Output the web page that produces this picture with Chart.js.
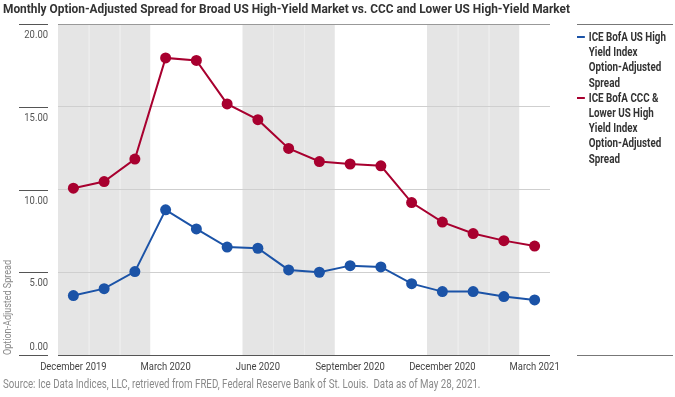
<!DOCTYPE html>
<html>
<head>
<meta charset="utf-8">
<script src="https://cdn.jsdelivr.net/npm/chart.js@4.4.1/dist/chart.umd.min.js"></script>
<style>
  html, body { margin: 0; padding: 0; background: #fff; }
  body { width: 675px; height: 397px; position: relative; overflow: hidden; font-family: Roboto, sans-serif; }
  #wrap { position: absolute; left: 0; top: 0; width: 675px; height: 397px; }
  .sq { transform-origin: 0 0; white-space: nowrap; position: absolute; }
  #title { left: 3px; top: 0px; font-size: 13.5px; font-weight: bold; color: #333; transform: scaleX(0.88); }
  #source { left: 3px; top: 377px; font-size: 12px; color: #8a8a8a; transform: scaleX(0.81); }
  .rule { position: absolute; left: 577px; width: 96px; height: 0; border-top: 1px solid #777; }
  #legend { left: 577px; top: 29px; width: 123px; white-space: normal; transform: scaleX(0.785); }
  .item { position: relative; padding-left: 15px; font-size: 12.5px; font-weight: bold; color: #333; line-height: 15.2px; }
  .item span.w { white-space: nowrap; }
  .sw { position: absolute; left: 0; top: 7px; width: 10px; height: 2px; }
</style>
</head>
<body>
<div id="wrap"><canvas id="c" width="675" height="397"></canvas></div>
<div id="title" class="sq">Monthly Option-Adjusted Spread for Broad US High-Yield Market vs. CCC and Lower US High-Yield Market</div>
<div class="rule" style="top:24px"></div>
<div id="legend" class="sq"></div>
<div class="rule" style="top:355px"></div>
<div id="source" class="sq">Source: Ice Data Indices, LLC, retrieved from FRED, Federal Reserve Bank of St. Louis.&nbsp; Data as of May 28, 2021.</div>
<script>
// données (déc. 2019 -> mars 2021)
const months = ["December 2019", "January 2020", "February 2020", "March 2020", "April 2020", "May 2020",
  "June 2020", "July 2020", "August 2020", "September 2020", "October 2020", "November 2020",
  "December 2020", "January 2021", "February 2021", "March 2021"];
const highYield = [3.59, 4.01, 5.04, 8.77, 7.62, 6.52, 6.45, 5.14, 5.00, 5.40, 5.32, 4.31, 3.83, 3.83, 3.53, 3.33];
const cccLower = [10.08, 10.48, 11.84, 17.95, 17.80, 15.17, 14.22, 12.48, 11.69, 11.54, 11.43, 9.21, 8.03, 7.34, 6.91, 6.58];
const yTicks = [0, 5, 10, 15, 20];
const seriesNames = ["ICE BofA US High Yield Index Option-Adjusted Spread",
  "ICE BofA CCC & Lower US High Yield Index Option-Adjusted Spread"];
const colors = ["#1b53a7", "#a8002f"];

const FONT = "Roboto, sans-serif";
const SX = 0.82; // compression horizontale (police condensée absente)

// légende HTML (pas de coupure après les traits d'union)
const legend = document.getElementById("legend");
seriesNames.forEach((name, i) => {
    const d = document.createElement("div");
    d.className = "item";
    const words = name.split(" ").map(w => '<span class="w">' + w.replace("&", "&amp;") + '</span>');
    d.innerHTML = '<span class="sw" style="background:' + colors[i] + '"></span>' + words.join(" ");
    legend.appendChild(d);
});

function squeezedText(ctx, text, x, y, align) {
    ctx.save();
    ctx.translate(x, y);
    ctx.scale(SX, 1);
    ctx.textAlign = align;
    ctx.fillText(text, 0, 0);
    ctx.restore();
}

// bandes grises par trimestre, graduations et libellés
const decor = {
    id: "decor",
    beforeDraw(chart) {
        const { ctx, chartArea: a, scales: { x } } = chart;
        const w = x.getPixelForValue(1) - x.getPixelForValue(0);
        ctx.save();
        months.forEach((m, i) => {
            if (Math.floor(i / 3) % 2 !== 0) return;
            const cx = x.getPixelForValue(i);
            ctx.fillStyle = "#e5e5e5";
            ctx.fillRect(cx - w / 2, a.top, w, a.bottom - a.top);
            if (i % 3 !== 0) {
                ctx.fillStyle = "#ececec";
                ctx.fillRect(Math.round(cx - w / 2), a.top, 1, a.bottom - a.top);
            }
        });
        ctx.restore();
    },
    afterDraw(chart) {
        const { ctx, chartArea: a, scales: { x, y } } = chart;
        ctx.save();
        ctx.textBaseline = "middle";
        ctx.font = "11.5px " + FONT;
        yTicks.forEach(v => {
            const py = Math.round(y.getPixelForValue(v)) + 0.5;
            ctx.strokeStyle = "#555";
            ctx.lineWidth = 1;
            ctx.beginPath();
            ctx.moveTo(19, py);
            ctx.lineTo(48, py);
            ctx.stroke();
            ctx.fillStyle = "#555";
            squeezedText(ctx, v.toFixed(2), 48, Math.min(py + 11, a.bottom - 8), "right");
        });
        ctx.fillStyle = "#444";
        months.forEach((m, i) => {
            if (i % 3 === 0) squeezedText(ctx, m, x.getPixelForValue(i), a.bottom + 12, "center");
        });
        // titre de l'axe Y
        ctx.font = "11px " + FONT;
        ctx.fillStyle = "#888";
        ctx.translate(8, a.bottom);
        ctx.rotate(-Math.PI / 2);
        squeezedText(ctx, "Option-Adjusted Spread", 0, 0, "left");
        ctx.restore();
    }
};

const ctx = document.getElementById("c").getContext("2d");
new Chart(ctx, {
    type: "line",
    data: {
        labels: months,
        datasets: [highYield, cccLower].map((vals, i) => ({
            label: seriesNames[i],
            data: vals,
            borderColor: colors[i],
            backgroundColor: colors[i],
            pointBackgroundColor: colors[i],
            pointBorderWidth: 0,
            pointRadius: 5.5,
            borderWidth: 2,
            tension: 0
        }))
    },
    options: {
        responsive: false,
        animation: false,
        layout: { padding: { top: 24, right: 125, bottom: 22, left: 0 } },
        plugins: { legend: { display: false }, tooltip: { enabled: false } },
        scales: {
            x: {
                offset: true,
                grid: { display: false, drawTicks: false },
                border: { display: false },
                ticks: { display: false, autoSkip: false },
                afterFit: s => { s.height = 20; }
            },
            y: {
                min: 0, max: 20,
                afterBuildTicks: s => { s.ticks = yTicks.map(v => ({ value: v })); },
                ticks: { display: false },
                border: { display: false },
                grid: {
                    drawTicks: false,
                    color: c => c.tick.value === 0 ? "#555" : (c.tick.value === 20 ? "#999" : "#cfcfcf")
                },
                afterFit: s => { s.width = 58; }
            }
        }
    },
    plugins: [decor]
});
</script>
</body>
</html>
